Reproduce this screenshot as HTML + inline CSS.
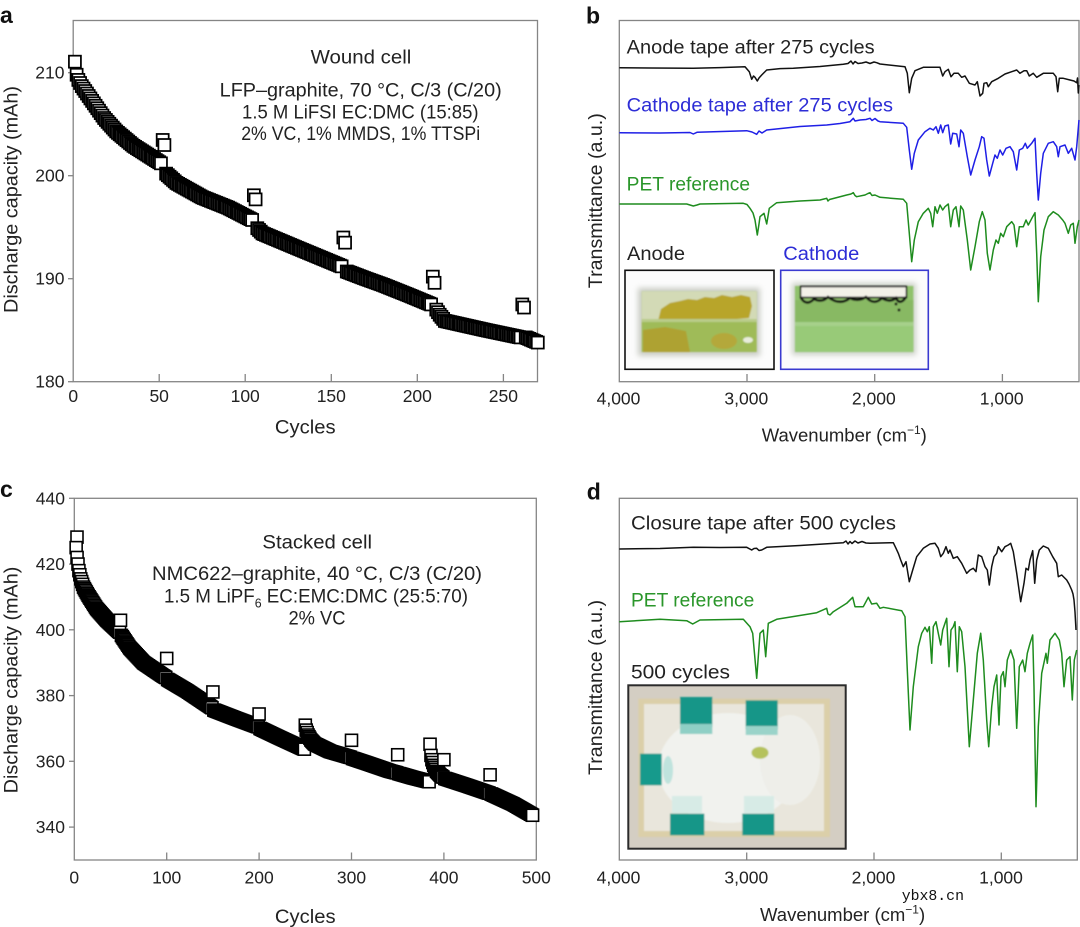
<!DOCTYPE html>
<html><head><meta charset="utf-8">
<style>
html,body{margin:0;padding:0;background:#fff;}
svg{display:block;}
text{font-family:"Liberation Sans",Arial,sans-serif;fill:#222;}
.tk{font-size:17.5px;}
.lb{font-size:19px;}
.pl{font-size:23px;font-weight:bold;fill:#111;}
</style></head><body>
<svg id="s" width="1080" height="927" viewBox="0 0 1080 927" xmlns="http://www.w3.org/2000/svg">
<defs>
<filter id="bl" x="-10%" y="-10%" width="120%" height="120%"><feGaussianBlur stdDeviation="0.9"/></filter>
<filter id="bl2" x="-20%" y="-20%" width="140%" height="140%"><feGaussianBlur stdDeviation="3"/></filter>
</defs>
<rect width="1080" height="927" fill="#fff"/>

<!-- ================= PANEL A ================= -->
<text class="pl" x="0" y="23">a</text>
<rect x="73.2" y="20.5" width="464.3" height="361.2" fill="none" stroke="#858585" stroke-width="1.3"/>
<g stroke="#858585" stroke-width="1.3">
<line x1="159.2" y1="381.7" x2="159.2" y2="374"/>
<line x1="245.2" y1="381.7" x2="245.2" y2="374"/>
<line x1="331.3" y1="381.7" x2="331.3" y2="374"/>
<line x1="417.3" y1="381.7" x2="417.3" y2="374"/>
<line x1="503.4" y1="381.7" x2="503.4" y2="374"/>
<line x1="68" y1="72.7" x2="73.2" y2="72.7"/>
<line x1="68" y1="175.7" x2="73.2" y2="175.7"/>
<line x1="68" y1="278.7" x2="73.2" y2="278.7"/>
<line x1="68" y1="381.7" x2="73.2" y2="381.7"/>
</g>
<g class="tk" text-anchor="end">
<text x="64.5" y="78.7">210</text>
<text x="64.5" y="181.7">200</text>
<text x="64.5" y="284.7">190</text>
<text x="64.5" y="387.7">180</text>
</g>
<g class="tk" text-anchor="middle">
<text x="73.2" y="402">0</text>
<text x="159.2" y="402">50</text>
<text x="245.2" y="402">100</text>
<text x="331.3" y="402">150</text>
<text x="417.3" y="402">200</text>
<text x="503.4" y="402">250</text>
</g>
<text class="lb" x="305.3" y="433.3" text-anchor="middle" textLength="60.7" lengthAdjust="spacingAndGlyphs">Cycles</text>
<text class="lb" transform="translate(17.5,199.5) rotate(-90)" text-anchor="middle" textLength="227" lengthAdjust="spacingAndGlyphs">Discharge capacity (mAh)</text>
<g class="lb" text-anchor="middle">
<text x="361" y="63.3" textLength="100.7" lengthAdjust="spacingAndGlyphs">Wound cell</text>
<text x="360.7" y="96.7" textLength="282" lengthAdjust="spacingAndGlyphs">LFP–graphite, 70 °C, C/3 (C/20)</text>
<text x="360.3" y="118.3" textLength="236.5" lengthAdjust="spacingAndGlyphs">1.5 M LiFSI EC:DMC (15:85)</text>
<text x="360.7" y="140" textLength="239" lengthAdjust="spacingAndGlyphs">2% VC, 1% MMDS, 1% TTSPi</text>
</g>
<g id="ga"></g>

<!-- ================= PANEL C ================= -->
<text class="pl" x="0" y="497">c</text>
<rect x="74.3" y="498.3" width="462" height="361.7" fill="none" stroke="#858585" stroke-width="1.3"/>
<g stroke="#858585" stroke-width="1.3">
<line x1="166.7" y1="860" x2="166.7" y2="852.5"/>
<line x1="259.1" y1="860" x2="259.1" y2="852.5"/>
<line x1="351.5" y1="860" x2="351.5" y2="852.5"/>
<line x1="443.9" y1="860" x2="443.9" y2="852.5"/>
<line x1="69" y1="498.3" x2="74.3" y2="498.3"/>
<line x1="69" y1="564.1" x2="74.3" y2="564.1"/>
<line x1="69" y1="629.8" x2="74.3" y2="629.8"/>
<line x1="69" y1="695.6" x2="74.3" y2="695.6"/>
<line x1="69" y1="761.3" x2="74.3" y2="761.3"/>
<line x1="69" y1="827.1" x2="74.3" y2="827.1"/>
</g>
<g class="tk" text-anchor="end">
<text x="65" y="504.3">440</text>
<text x="65" y="570.1">420</text>
<text x="65" y="635.8">400</text>
<text x="65" y="701.6">380</text>
<text x="65" y="767.3">360</text>
<text x="65" y="833.1">340</text>
</g>
<g class="tk" text-anchor="middle">
<text x="74.3" y="883.5">0</text>
<text x="166.7" y="883.5">100</text>
<text x="259.1" y="883.5">200</text>
<text x="351.5" y="883.5">300</text>
<text x="443.9" y="883.5">400</text>
<text x="536.3" y="883.5">500</text>
</g>
<text class="lb" x="305.3" y="923" text-anchor="middle" textLength="60.7" lengthAdjust="spacingAndGlyphs">Cycles</text>
<text class="lb" transform="translate(17.5,680) rotate(-90)" text-anchor="middle" textLength="226.7" lengthAdjust="spacingAndGlyphs">Discharge capacity (mAh)</text>
<g class="lb" text-anchor="middle">
<text x="317.2" y="548.3" textLength="109.6" lengthAdjust="spacingAndGlyphs">Stacked cell</text>
<text x="317" y="580" textLength="330" lengthAdjust="spacingAndGlyphs">NMC622–graphite, 40 °C, C/3 (C/20)</text>
<text x="316" y="602.7" textLength="304" lengthAdjust="spacingAndGlyphs">1.5 M LiPF<tspan font-size="12.5" dy="5">6</tspan><tspan dy="-5"> EC:EMC:DMC (25:5:70)</tspan></text>
<text x="317" y="624.3" textLength="57" lengthAdjust="spacingAndGlyphs">2% VC</text>
</g>
<g id="gc"></g>

<!-- ================= PANEL B ================= -->
<text class="pl" x="586" y="23.3">b</text>
<rect x="619.3" y="20.5" width="459.7" height="361.2" fill="none" stroke="#858585" stroke-width="1.3"/>
<g stroke="#858585" stroke-width="1.3">
<line x1="747" y1="381.7" x2="747" y2="374"/>
<line x1="874.7" y1="381.7" x2="874.7" y2="374"/>
<line x1="1002.4" y1="381.7" x2="1002.4" y2="374"/>
</g>
<g class="tk" text-anchor="middle">
<text x="618.5" y="404.5">4,000</text>
<text x="746.3" y="404.5">3,000</text>
<text x="873.8" y="404.5">2,000</text>
<text x="1001.7" y="404.5">1,000</text>
</g>
<text x="761.7" y="441.7" font-size="18.5">Wavenumber (cm<tspan font-size="12" dy="-7.5">−1</tspan><tspan dy="7.5">)</tspan></text>
<text class="lb" transform="translate(602,200.7) rotate(-90)" text-anchor="middle" textLength="175" lengthAdjust="spacingAndGlyphs">Transmittance (a.u.)</text>

<text class="lb" x="626.7" y="53.3" textLength="248" lengthAdjust="spacingAndGlyphs">Anode tape after 275 cycles</text>
<text class="lb" x="626.7" y="111.7" textLength="266.3" lengthAdjust="spacingAndGlyphs" style="fill:#2d2dd6">Cathode tape after 275 cycles</text>
<text class="lb" x="626.7" y="190.7" textLength="123.3" lengthAdjust="spacingAndGlyphs" style="fill:#2a962a">PET reference</text>
<text class="lb" x="627" y="260" textLength="58" lengthAdjust="spacingAndGlyphs">Anode</text>
<text class="lb" x="783.3" y="260" textLength="76" lengthAdjust="spacingAndGlyphs" style="fill:#2d2dd6">Cathode</text>

<g fill="none" stroke-width="1.5" stroke-linejoin="round">
<polyline stroke="#111" points="619.3,67.7 650,68 693.3,68.3 720,67.6 745,66.7 749.3,71.7 751.7,79.3 753.5,76 755,77.3 757.3,81 759,78 761.7,75 766.7,70 780,68.6 793.3,68.3 820,66.5 843.3,64.3 848,63.5 851,61 853,64 855,61.5 858,63.5 862,63 866,62 870,63.5 874,62 876.7,62.7 880,64 905,66.7 907.3,73.3 909.3,92.7 911.7,78.3 915,70.7 923.3,67.3 940,67.3 942.7,76 945,71.7 948.3,69.3 951,76.7 954,73.3 958.3,73.3 961.7,77.3 965,76 969.3,83.3 975,85 977.3,81.7 980,96 982.7,93.3 984,83.3 986.7,82.7 988.3,86.7 991.7,81.7 998.3,78.3 1005,74 1011.7,71.7 1016.7,70 1020,73.3 1024,70.7 1026.7,70.7 1029.3,76 1033.3,73.3 1036.7,77.3 1043.3,73.3 1053.3,73.3 1056,76.7 1057.7,91.7 1059.3,78.3 1063.3,78.3 1070,80 1074,81 1076.7,82.7 1077.5,78 1078.3,93 1079,85"/>
<polyline stroke="#1f1fe6" points="619.3,132.7 660,133 690,132.5 693.3,134 697,132.3 746.7,130.7 752,132 756.7,134.3 759,131 762,133 766.7,130 800,126.5 826.7,125 840,123.5 850,121.7 853.3,118.3 855,121 860,120 866,119.5 870,118.3 872,120.5 875,118.5 878,121 880,121.7 903.3,123.3 906.7,127.3 909.3,150 911.7,169.3 914.3,153.3 918.3,140 925,131.7 930,128.3 933.3,130 936,126.7 938.3,133.3 940.7,125 942.7,132.7 945,126 948.3,125 950.7,144 952.7,133.3 956.7,134 959,146.7 960.7,130 963.3,133.3 967.3,156.7 970.7,175 975,160 979.3,146.7 981.7,136.7 984,138.3 986.7,160 989.3,176 992.7,163.3 995,155 997.3,158.3 1000,150 1002.7,155 1006,148.3 1010,146.7 1013.3,151.7 1016.7,170 1019.3,150 1022.7,148.3 1025.3,143.3 1027.3,148.3 1031.7,143.3 1035,138.3 1036.7,173.3 1038.3,200 1040.7,173.3 1043.3,153.3 1048.3,143.3 1053.3,141.7 1056.7,146.7 1058.3,156.7 1060,146.7 1065,145 1068.3,153.3 1071.7,148.3 1075,160 1076.7,146.7 1079,120"/>
<polyline stroke="#1e8c1e" points="619.3,204 686.7,204 690,205 693.3,206 697,205 700,204 743.3,203.3 747,204.5 750,208.3 753,213 755,220 757.3,235 759,224 760,216.7 764,213.3 766.7,224 769.3,208.3 776.7,202.7 800,201 820,200 824,199 826.7,198.3 828,201 829.5,199.5 846.7,195 851,194 853.3,192.7 855,195.5 856.7,196.7 865,195 868,193.5 870,192.7 872,195.5 875,195 880,197.3 903.3,199.3 906.7,203.3 909.3,233.3 911.7,261.7 914.3,240 918.3,221.7 923.3,213.3 928.3,208.3 930.7,213.3 932.7,226.7 935,206.7 937.3,213.3 940,205 942.7,210 945,206.7 948.3,204 950.7,226.7 953.3,210 956,206.7 959,226.7 960.7,206 963.3,210 967.3,240 970.7,270 975,246.7 979.3,221.7 982.3,211.7 985,220 987.3,253.3 990,270 993.3,250 996,240 998.3,243.3 1000.7,233.3 1003.3,236.7 1006.7,226.7 1011.7,221.7 1014,225 1016.7,246.7 1019.3,226.7 1023.3,226.7 1026,220 1028.3,225 1032.7,216.7 1035,212.7 1036.7,253.3 1038.3,301.7 1040.7,256.7 1044,230 1048.3,216.7 1053.3,211.7 1058.3,215 1062.7,220 1065,223.3 1068.3,233.3 1070.7,225 1073.3,223.3 1075,243.3 1077.3,226.7 1079,220"/>
</g>

<!-- Anode photo -->
<rect x="625" y="270.3" width="149" height="99" fill="#fcfcfc"/>
<g filter="url(#bl2)"><rect x="638" y="288" width="122" height="68" fill="#c9ccc4"/></g>
<g filter="url(#bl)">
<rect x="641.7" y="291.3" width="115" height="60.7" fill="#9fbb58"/>
<rect x="641.7" y="291.3" width="115" height="29" fill="#d3dab6"/>
<path d="M658,321 L661,309 L670,303 L680,301 L688,299 L697,300 L705,297 L714,298 L722,295 L732,297 L741,295 L750,297 L752,306 L749,318 L700,322 Z" fill="#b8a52c"/>
<rect x="641.7" y="319" width="115" height="3" fill="#b9cc8a"/>
<path d="M643,330 L665,327 L686,331 L690,352 L643,352 Z" fill="#aea233"/>
<ellipse cx="724" cy="341" rx="13" ry="8" fill="#b4a83a"/>
<ellipse cx="748" cy="340" rx="5" ry="3" fill="#e8ecdc"/>
</g>
<rect x="625" y="270.3" width="149" height="99" fill="none" stroke="#111" stroke-width="1.6"/>

<!-- Cathode photo -->
<rect x="780.7" y="270.3" width="147.6" height="99" fill="#fcfcfc"/>
<g filter="url(#bl2)"><rect x="792" y="283" width="124" height="72" fill="#cbd0c6"/></g>
<g filter="url(#bl)">
<rect x="795" y="286" width="118.3" height="66" fill="#90c26c"/>
<rect x="795" y="300" width="118.3" height="22" fill="#88b964"/>
<rect x="795" y="322" width="118.3" height="4" fill="#a6d08a"/>
<rect x="795" y="326" width="118.3" height="26" fill="#98ca78"/>
<rect x="800.5" y="286.5" width="106" height="11" fill="#f3f1e8" stroke="#111" stroke-width="1.6"/>
<path d="M800.5,297 Q806,307 814,299 Q822,303 828,297 Q840,306 850,298 Q858,302 866,297 Q874,306 882,298 Q890,303 896,298 Q900,306 906,297" fill="none" stroke="#111" stroke-width="2.6"/>
<circle cx="899" cy="310" r="1.5" fill="#111"/>
<circle cx="896" cy="304" r="1.5" fill="#111"/>
</g>
<rect x="780.7" y="270.3" width="147.6" height="99" fill="none" stroke="#3a3ad0" stroke-width="1.6"/>

<!-- ================= PANEL D ================= -->
<text class="pl" x="586.7" y="499.3">d</text>
<rect x="619.3" y="498.3" width="458" height="361.7" fill="none" stroke="#858585" stroke-width="1.3"/>
<g stroke="#858585" stroke-width="1.3">
<line x1="746.7" y1="860" x2="746.7" y2="852.5"/>
<line x1="874" y1="860" x2="874" y2="852.5"/>
<line x1="1001.3" y1="860" x2="1001.3" y2="852.5"/>
</g>
<g class="tk" text-anchor="middle">
<text x="618.5" y="883.5">4,000</text>
<text x="746.3" y="883.5">3,000</text>
<text x="873.5" y="883.5">2,000</text>
<text x="1001" y="883.5">1,000</text>
</g>
<text x="760" y="921" font-size="18.5">Wavenumber (cm<tspan font-size="12" dy="-7.5">−1</tspan><tspan dy="7.5">)</tspan></text>
<text class="lb" transform="translate(602,687.5) rotate(-90)" text-anchor="middle" textLength="175" lengthAdjust="spacingAndGlyphs">Transmittance (a.u.)</text>
<text class="lb" x="631" y="529.3" textLength="265" lengthAdjust="spacingAndGlyphs">Closure tape after 500 cycles</text>
<text class="lb" x="631" y="606.7" textLength="123.3" lengthAdjust="spacingAndGlyphs" style="fill:#2a962a">PET reference</text>
<text class="lb" x="631" y="678.3" textLength="99" lengthAdjust="spacingAndGlyphs">500 cycles</text>

<g fill="none" stroke-width="1.5" stroke-linejoin="round">
<polyline stroke="#111" points="619.3,549 660,548.5 693.3,547.3 720,547.5 746.7,547.3 751.7,550 754,548.5 756.7,548.3 759,550.5 761.7,550 766.7,547.3 800,545.5 843.3,542.7 846,541 848,544 850,541.5 852,543.5 855,541 858,543 862,541.5 866,543 870,543.3 893.3,542.7 896,548.3 898.3,553.3 900.7,560 903.3,566.7 906,561.7 909.3,581.7 912.7,570 916.7,556.7 923.3,548.3 930,544 935,543.3 938.3,548.3 940.7,556.7 943.3,553.3 946,546.7 948.3,553.3 950,550 953.3,558.3 957.3,556.7 961.7,563.3 966.7,573.3 970,570 973.3,568.3 976,571.7 978.3,555 981.7,556.7 985,566.7 987.3,570 989.3,585 991.7,566.7 994,556.7 996.7,553.3 998.3,546.7 1001.7,551.7 1005,546.7 1008.3,545 1010.7,543.3 1013.3,551.7 1016.7,573.3 1020.7,601.7 1024,583.3 1026,568.3 1028.3,570 1030,560 1032.7,550.7 1034.7,583.3 1036.7,560 1039.3,550 1043.3,546 1048.3,548.3 1052.7,556.7 1056.7,563.3 1058.3,576.7 1061.7,575 1066.7,580 1069,584 1071.7,590 1073,594 1074,600 1075,612 1076,630"/>
<polyline stroke="#1e8c1e" points="619.3,621.7 660,619.3 686.7,620.7 692.7,624 700,620 743.3,619.3 750,626.7 752.7,633.3 756.7,678.3 760,633.3 763.3,630 765.7,656.7 768.3,623.3 776.7,619.3 816.7,612.7 826.7,608.3 828,614 830,615 833.3,611.7 846.7,603.3 852.7,597.3 855,606.7 863.3,606.7 868.3,597.3 871.7,604 876.7,603.3 880,608.3 883.3,607.3 901.7,610.7 905,616.7 907.3,670 910,730 913.3,686.7 918.3,646.7 921.7,633.3 925,627.3 927.3,631.7 929.3,626.7 931.7,663.3 933.3,626.7 936,621.7 938.3,633.3 940.7,645 942.7,630 946.7,618.3 949,666.7 951,630 953.3,626.7 955,621.7 957.3,671.7 959.3,626.7 961.7,631.7 965,666.7 969.3,746.7 973.3,700 977.3,653.3 980.7,633.3 983.3,660 986.7,720 988.7,746.7 991.7,706.7 994,686.7 996.7,675 999,725 1001,676.7 1003.3,671.7 1005,686.7 1007.3,660 1010.7,650 1014,660 1016.7,728.3 1019.3,666.7 1022.7,660 1025,671.7 1027.3,653.3 1030,643.3 1032.7,635 1034,686.7 1036,806.7 1038.3,726.7 1041.7,673.3 1046,653.3 1047.3,663.3 1050,640 1055,633.3 1059.3,640 1061.7,653.3 1064,686.7 1066.7,660 1070,656.7 1072.3,700 1074.3,660 1076.7,650"/>
</g>

<!-- 500 cycles photo -->
<rect x="628.3" y="685.3" width="217.4" height="163.4" fill="#d4cec3"/>
<g filter="url(#bl)">
<rect x="638.3" y="698.7" width="191.7" height="138.3" fill="#dbcfa9"/>
<rect x="644" y="704" width="180" height="127" fill="#e9e6dc"/>
<ellipse cx="728" cy="768" rx="70" ry="55" fill="#f1f2ee"/>
<ellipse cx="790" cy="760" rx="30" ry="45" fill="#eeeee9"/>
<rect x="680" y="697" width="32.3" height="30" fill="#139688"/>
<rect x="680" y="724" width="32.3" height="10" fill="#8fcfc5"/>
<rect x="745.7" y="700.3" width="32" height="29" fill="#139688"/>
<rect x="745.7" y="726" width="32" height="9" fill="#9ad3c9"/>
<rect x="640" y="753.7" width="21.7" height="31.6" fill="#159a8c"/>
<ellipse cx="668" cy="770" rx="5" ry="14" fill="#bfe3dd"/>
<rect x="670" y="813.7" width="34.3" height="21.6" fill="#139688"/>
<rect x="672" y="796" width="30" height="17" fill="#d7ebe6"/>
<rect x="742.3" y="813.7" width="32" height="21.6" fill="#139688"/>
<rect x="744" y="796" width="30" height="17" fill="#d7ebe6"/>
<ellipse cx="760" cy="752.8" rx="8.5" ry="6" fill="#b5c25c"/>
</g>
<rect x="628.3" y="685.3" width="217.4" height="163.4" fill="none" stroke="#2b2b2b" stroke-width="2"/>

<text x="901.7" y="900" font-size="15" style="font-family:'Liberation Mono',monospace;fill:#111" textLength="62.3" lengthAdjust="spacingAndGlyphs">ybx8.cn</text>
</svg>
<script>
(function(){
var NS="http://www.w3.org/2000/svg";
function interp(a,c){for(var i=0;i<a.length-1;i++){var c0=a[i][0],v0=a[i][1],c1=a[i+1][0],v1=a[i+1][1];if(c>=c0&&c<=c1){return v0+(v1-v0)*(c-c0)/(c1-c0);}}return a[a.length-1][1];}
function build(segs,outs){var p=[];segs.forEach(function(s){for(var c=s[0][0];c<=s[s.length-1][0];c++){p.push([c,interp(s,c)]);}});outs.forEach(function(o){p.push(o);});p.sort(function(a,b){return a[0]-b[0];});return p;}
function draw(g,pts,fx,fy,S,sw,col){var frag=document.createDocumentFragment();pts.forEach(function(p){var r=document.createElementNS(NS,"rect");r.setAttribute("x",(fx(p[0])-S/2).toFixed(2));r.setAttribute("y",(fy(p[1])-S/2).toFixed(2));r.setAttribute("width",S);r.setAttribute("height",S);r.setAttribute("fill","#fff");r.setAttribute("stroke",col);r.setAttribute("stroke-width",sw);frag.appendChild(r);});g.appendChild(frag);}
// Panel a
var segA=[
[[2,209.8],[3,209.3],[5,208.7],[10,207.5],[18,205.6],[25,204.3],[35,202.9],[51,201.2]],
[[54,200.2],[60,199.3],[75,197.9],[90,196.9],[104,195.7]],
[[107,194.9],[110,194.4],[130,193.0],[156,191.2]],
[[159,190.7],[170,190.0],[180,189.4],[195,188.4],[208,187.5]],
[[211,187.0],[213,186.5],[216,185.9],[240,185.0],[260,184.3]],
[[263,184.3],[270,183.8]]];
var outA=[[1,211.07],[52,203.47],[53,202.98],[105,198.1],[106,197.7],[157,194.0],[158,193.5],[209,190.2],[210,189.6],[261,187.5],[262,187.2]];
draw(document.getElementById("ga"),build(segA,outA),function(c){return 73.2+c*1.7207;},function(v){return 381.7-(v-180)*10.3;},12,1.75,"#000");
// Panel c
var segC=[
[[2,425],[3,422],[4,420],[5,418],[7,415.5],[10,413],[15,410.5],[24,406.5],[35,403],[49,399.3]],
[[51,398.3],[60,394.5],[75,390],[96,386],[99,385.5]],
[[101,384.9],[122,381.4],[149,376.3]],
[[151,375.6],[175,373],[199,370.5]],
[[201,370],[222,367.2],[249,363.7]],
[[251,369.5],[253,368],[256,366.5],[260,365.3],[277,363],[299,361.2]],
[[301,360.9],[316,359.5],[342,357],[349,356.5]],
[[351,356.3],[367,355],[384,353.8]],
[[386,361.8],[387,360.5],[389,358.8],[392,357],[396,355.8],[399,355.2]],
[[401,354.8],[425,352.6],[449,350.3]],
[[451,350.1],[475,347],[496,343.6]]];
var outC=[[1,428.2],[50,402.9],[100,391.3],[150,381.1],[200,374.4],[250,371],[300,366.4],[350,362],[385,365.2],[400,360.5],[450,355.9]];
draw(document.getElementById("gc"),build(segC,outC),function(c){return (c<=1?77:74.3+c*0.924);},function(v){return 498.3+(440-v)*3.288;},12,1.6,"#000");
})();
</script>
</body></html>
